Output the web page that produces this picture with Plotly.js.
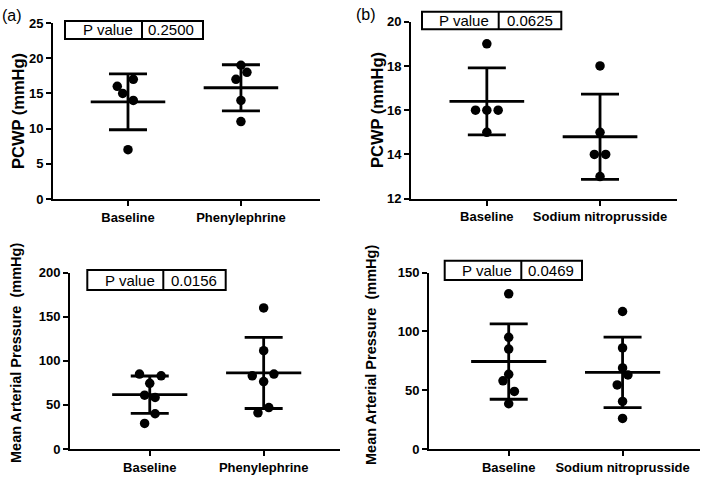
<!DOCTYPE html>
<html>
<head>
<meta charset="utf-8">
<script src="https://cdn.plot.ly/plotly-3.0.1.min.js"></script>
<style>html,body{margin:0;padding:0;background:#fff;}#chart{width:705px;height:479px;}</style>
</head>
<body>
<div id="chart"></div>
<script>
// ---------- DATA ----------
const catsPhe = ["Baseline", "Phenylephrine"];
const catsSnp = ["Baseline", "Sodium nitroprusside"];

const pcwpPheBaseline = [16, 15, 17, 14, 7];
const pcwpPhePhenylephrine = [19, 18, 17, 14, 11];
const pcwpSnpBaseline = [19, 16, 16, 16, 15];
const pcwpSnpNitroprusside = [18, 15, 14, 14, 13];
const mapPheBaseline = [85, 83, 74.5, 61, 58.5, 40, 29];
const mapPhePhenylephrine = [160, 111.5, 83, 85, 76.5, 47, 41];
const mapSnpBaseline = [132, 95, 85, 63.5, 58, 49, 38.5];
const mapSnpNitroprusside = [117, 86, 69, 63, 54.5, 40.5, 26];

// horizontal scatter offsets of the dots (category units)
const jitPcwpPheBaseline = [-0.095, -0.047, 0.047, 0.047, 0];
const jitPcwpPhePhenylephrine = [0, 0.053, -0.044, 0, 0];
const jitPcwpSnpBaseline = [0, -0.1, 0, 0.1, 0];
const jitPcwpSnpNitroprusside = [0, 0, -0.05, 0.05, 0];
const jitMapPheBaseline = [-0.09, 0.1, 0, -0.045, 0.047, 0.047, -0.045];
const jitMapPhePhenylephrine = [0, 0, -0.1, 0.09, 0, 0.045, -0.05];
const jitMapSnpBaseline = [0, 0, 0, 0, -0.05, 0.05, 0];
const jitMapSnpNitroprusside = [0, 0, 0, 0.047, -0.047, 0, 0];

// y-axis tick values of each panel
const yTicksPcwpPhe = [0, 5, 10, 15, 20, 25];
const yTicksPcwpSnp = [12, 14, 16, 18, 20];
const yTicksMapPhe = [0, 50, 100, 150, 200];
const yTicksMapSnp = [0, 50, 100, 150];

const pValues = ["0.2500", "0.0625", "0.0156", "0.0469"];
const yTitles = ["PCWP (mmHg)", "PCWP (mmHg)", "Mean Arterial Pressure\u00a0\u00a0(mmHg)", "Mean Arterial Pressure\u00a0\u00a0(mmHg)"];
const panelLabels = ["(a)", "(b)"];

// ---------- LAYOUT HELPERS ----------
const W = 705, H = 479;
const fx = x => x / W;
const fy = y => 1 - y / H;
const FONT = "Liberation Sans, Arial, sans-serif";

function mean(a){ return a.reduce((s,v)=>s+v,0)/a.length; }
function sd(a){ const m = mean(a); return Math.sqrt(a.reduce((s,v)=>s+(v-m)*(v-m),0)/(a.length-1)); }

const panels = [
  {groups:[pcwpPheBaseline, pcwpPhePhenylephrine], jit:[jitPcwpPheBaseline, jitPcwpPhePhenylephrine], cats:catsPhe,
   dom:[53,320,23,199], xr:[0.336,2.70], yticks:yTicksPcwpPhe,
   box:[65,203,142,21,39], txt:[108,171,30], title:[18,111,16.5]},
  {groups:[pcwpSnpBaseline, pcwpSnpNitroprusside], jit:[jitPcwpSnpBaseline, jitPcwpSnpNitroprusside], cats:catsSnp,
   dom:[411,677,21.7,198.7], xr:[0.33,2.68], yticks:yTicksPcwpSnp,
   box:[422,561.3,498.7,11.7,29.3], txt:[464,529.5,20.5], title:[377,110,16.5]},
  {groups:[mapPheBaseline, mapPhePhenylephrine], jit:[jitMapPheBaseline, jitMapPhePhenylephrine], cats:catsPhe,
   dom:[70,340,272.7,449], xr:[0.30,2.67], yticks:yTicksMapPhe,
   box:[87.3,225.7,163.3,270,290], txt:[130,193.8,280], title:[16,353,14.5]},
  {groups:[mapSnpBaseline, mapSnpNitroprusside], jit:[jitMapSnpBaseline, jitMapSnpNitroprusside], cats:catsSnp,
   dom:[429,700,272.7,449], xr:[0.30,2.68], yticks:yTicksMapSnp,
   box:[444.7,582,521.3,260.7,280], txt:[487,551,270.3], title:[371,355,14.5]}
];

const traces = [];
const shapes = [];
const annotations = [];
const layout = {
  width: W, height: H, margin:{l:0,r:0,t:0,b:0},
  paper_bgcolor:"#fff", plot_bgcolor:"#fff", showlegend:false,
  font:{family:FONT, color:"#000"}
};

panels.forEach((p, i) => {
  const n = i + 1;
  const xa = n === 1 ? "x" : "x" + n, ya = n === 1 ? "y" : "y" + n;
  const xk = n === 1 ? "xaxis" : "xaxis" + n, yk = n === 1 ? "yaxis" : "yaxis" + n;
  const yt = p.yticks;
  layout[xk] = {
    domain:[fx(p.dom[0]), fx(p.dom[1])], range:p.xr, anchor:ya,
    showgrid:false, zeroline:false, showline:true, linecolor:"#000", linewidth:2,
    ticks:"outside", ticklen:5, tickwidth:2, tickcolor:"#000",
    tickmode:"array", tickvals:[1,2], ticktext:p.cats.map(c => "<b>" + c + "</b>"),
    tickfont:{family:FONT, size:13, color:"#000"}
  };
  layout[yk] = {
    domain:[fy(p.dom[3]), fy(p.dom[2])], range:[yt[0], yt[yt.length-1]], anchor:xa,
    showgrid:false, zeroline:false, showline:true, linecolor:"#000", linewidth:2,
    ticks:"outside", ticklen:5, tickwidth:2, tickcolor:"#000",
    tickmode:"array", tickvals:yt, ticktext:yt.map(v => "<b>" + v + "</b>"),
    tickfont:{family:FONT, size:13, color:"#000"}
  };
  const means = p.groups.map(mean), sds = p.groups.map(sd);
  // error bars (SD)
  traces.push({type:"scatter", mode:"markers", x:[1,2], y:means, xaxis:xa, yaxis:ya,
    marker:{size:1, color:"rgba(0,0,0,0)"}, hoverinfo:"skip",
    error_y:{type:"data", array:sds, visible:true, color:"#000", thickness:2.8, width:19}});
  // mean lines
  means.forEach((m, g) => {
    traces.push({type:"scatter", mode:"lines", x:[g+1-0.33, g+1+0.33], y:[m, m], xaxis:xa, yaxis:ya,
      line:{color:"#000", width:2.8}, hoverinfo:"skip"});
  });
  // dots
  p.groups.forEach((vals, g) => {
    traces.push({type:"scatter", mode:"markers", x:vals.map((v,k)=>g+1+p.jit[g][k]), y:vals,
      xaxis:xa, yaxis:ya, marker:{size:9.5, color:"#000"}});
  });
  // P value box
  const b = p.box;
  shapes.push({type:"rect", xref:"paper", yref:"paper", x0:fx(b[0]), x1:fx(b[1]), y0:fy(b[4]), y1:fy(b[3]),
    line:{color:"#000", width:2}, fillcolor:"#fff", layer:"above"});
  shapes.push({type:"line", xref:"paper", yref:"paper", x0:fx(b[2]), x1:fx(b[2]), y0:fy(b[4]), y1:fy(b[3]),
    line:{color:"#000", width:2}, layer:"above"});
  annotations.push({xref:"paper", yref:"paper", x:fx(p.txt[0]), y:fy(p.txt[2]), text:"P value", showarrow:false,
    xanchor:"center", yanchor:"middle", font:{family:FONT, size:15, color:"#000"}});
  annotations.push({xref:"paper", yref:"paper", x:fx(p.txt[1]), y:fy(p.txt[2]), text:pValues[i], showarrow:false,
    xanchor:"center", yanchor:"middle", font:{family:FONT, size:15, color:"#000"}});
  // y title
  annotations.push({xref:"paper", yref:"paper", x:fx(p.title[0]), y:fy(p.title[1]), text:"<b>" + yTitles[i] + "</b>", textangle:-90,
    showarrow:false, xanchor:"center", yanchor:"middle", font:{family:FONT, size:p.title[2], color:"#000"}});
});

annotations.push({xref:"paper", yref:"paper", x:fx(12), y:fy(16), text:panelLabels[0], showarrow:false,
  xanchor:"center", yanchor:"middle", font:{family:FONT, size:16, color:"#000"}});
annotations.push({xref:"paper", yref:"paper", x:fx(366), y:fy(15), text:panelLabels[1], showarrow:false,
  xanchor:"center", yanchor:"middle", font:{family:FONT, size:16, color:"#000"}});

layout.shapes = shapes;
layout.annotations = annotations;

Plotly.newPlot("chart", traces, layout, {staticPlot:true, displayModeBar:false});
</script>
</body>
</html>
